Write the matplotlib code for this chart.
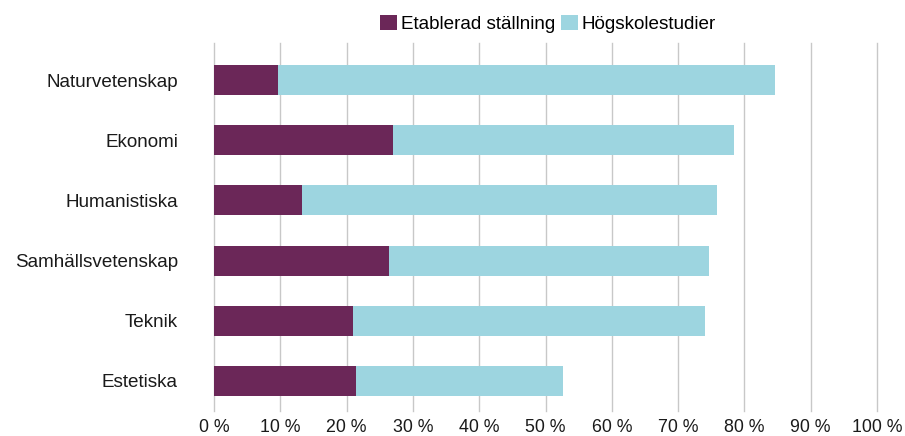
import numpy as np
import matplotlib.pyplot as plt
from matplotlib.ticker import FuncFormatter

plt.rcParams['font.family'] = ['Liberation Sans', 'DejaVu Sans']

# Data
categories = ['Naturvetenskap', 'Ekonomi', 'Humanistiska',
              'Samhällsvetenskap', 'Teknik', 'Estetiska']
etablerad = [9.7, 27.0, 13.3, 26.4, 20.9, 21.4]
totalt = [84.6, 78.4, 75.8, 74.7, 74.0, 52.7]
hogskola = [t - e for t, e in zip(totalt, etablerad)]

purple = '#6b2758'
blue = '#9dd5e0'

fig = plt.figure(figsize=(9.05, 4.36), dpi=100)
ax = fig.add_axes([214 / 905, 1 - 411 / 436, 663 / 905, 368 / 436])

y = np.arange(len(categories))
ax.barh(y, etablerad, height=0.5, color=purple, label='Etablerad ställning', zorder=3)
ax.barh(y, hogskola, left=etablerad, height=0.5, color=blue,
        label='Högskolestudier', zorder=3)

ax.set_xlim(0, 100)
ax.set_ylim(5.5, -0.5 - 7 / 60.2)
ax.set_xticks(np.arange(0, 101, 10))
ax.xaxis.set_major_formatter(FuncFormatter(lambda v, p: f'{v:.0f} %'))
ax.set_yticks(y)
ax.set_yticklabels(categories)
ax.grid(axis='x', color='#c8c8c8', linewidth=1, zorder=0)
for line in ax.get_xgridlines():
    line.set_clip_on(False)
for s in ax.spines.values():
    s.set_visible(False)
ax.tick_params(axis='both', length=0, colors='#1a1a1a')
ax.tick_params(axis='y', labelsize=13.6, pad=26)
ax.tick_params(axis='x', labelsize=12.8, pad=6)

fig.legend(loc='center', bbox_to_anchor=(548 / 905, 1 - 24 / 436), ncol=2,
           frameon=False, fontsize=13.6, handlelength=0.9, handleheight=0.9,
           handletextpad=0.2, columnspacing=0.3, borderpad=0)

fig.savefig('out.png', dpi=100)
